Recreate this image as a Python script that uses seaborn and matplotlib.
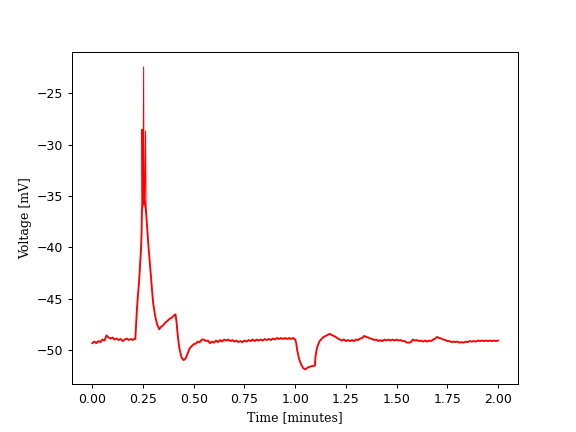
import matplotlib
matplotlib.use("Agg")
import matplotlib.pyplot as plt
import seaborn as sns
import pandas as pd

time_min = [
    0.00, 0.01, 0.02, 0.03, 0.04, 0.05, 0.06, 0.07, 0.08, 0.09,
    0.10, 0.11, 0.12, 0.13, 0.14, 0.15, 0.16, 0.17, 0.18, 0.19,
    0.20, 0.205, 0.212, 0.216, 0.22, 0.225, 0.23, 0.235, 0.24, 0.243,
    0.2445, 0.245, 0.247, 0.250, 0.253, 0.255, 0.258, 0.2625, 0.265, 0.268,
    0.272, 0.278, 0.285, 0.29, 0.295, 0.30, 0.31, 0.32, 0.33, 0.34,
    0.35, 0.36, 0.37, 0.38, 0.39, 0.40, 0.41, 0.415, 0.42, 0.425,
    0.43, 0.44, 0.45, 0.46, 0.47, 0.48, 0.49, 0.50, 0.51, 0.52,
    0.53, 0.54, 0.55, 0.56, 0.57, 0.58, 0.59, 0.60, 0.61, 0.62,
    0.63, 0.64, 0.65, 0.66, 0.67, 0.68, 0.69, 0.70, 0.71, 0.72,
    0.73, 0.74, 0.75, 0.76, 0.77, 0.78, 0.79, 0.80, 0.81, 0.82,
    0.83, 0.84, 0.85, 0.86, 0.87, 0.88, 0.89, 0.90, 0.91, 0.92,
    0.93, 0.94, 0.95, 0.96, 0.97, 0.98, 0.99, 1.00, 1.005, 1.01,
    1.02, 1.03, 1.04, 1.05, 1.06, 1.07, 1.08, 1.09, 1.097, 1.10,
    1.105, 1.11, 1.12, 1.13, 1.14, 1.15, 1.16, 1.17, 1.18, 1.19,
    1.20, 1.21, 1.22, 1.23, 1.24, 1.25, 1.26, 1.27, 1.28, 1.29,
    1.30, 1.31, 1.32, 1.33, 1.34, 1.35, 1.36, 1.37, 1.38, 1.39,
    1.40, 1.41, 1.42, 1.43, 1.44, 1.45, 1.46, 1.47, 1.48, 1.49,
    1.50, 1.51, 1.52, 1.53, 1.54, 1.55, 1.56, 1.57, 1.58, 1.59,
    1.60, 1.61, 1.62, 1.63, 1.64, 1.65, 1.66, 1.67, 1.68, 1.69,
    1.70, 1.71, 1.72, 1.73, 1.74, 1.75, 1.76, 1.77, 1.78, 1.79,
    1.80, 1.81, 1.82, 1.83, 1.84, 1.85, 1.86, 1.87, 1.88, 1.89,
    1.90, 1.91, 1.92, 1.93, 1.94, 1.95, 1.96, 1.97, 1.98, 1.99,
    2.00,
]
voltage_mv = [
    -49.30, -49.15, -49.30, -49.10, -49.20, -48.95, -49.05, -48.55, -48.75, -48.85,
    -48.75, -48.95, -48.85, -49.00, -48.90, -49.10, -48.95, -48.85, -49.00, -48.90,
    -49.00, -48.90, -48.90, -47.50, -46.00, -44.60, -43.50, -41.80, -40.20, -38.50,
    -36.50, -28.50, -36.00, -35.60, -22.45, -35.80, -35.50, -28.70, -36.50, -37.30,
    -38.50, -40.20, -41.80, -43.00, -44.30, -45.40, -46.70, -47.50, -47.95, -47.70,
    -47.55, -47.30, -47.15, -46.95, -46.85, -46.65, -46.50, -47.20, -48.30, -49.20,
    -49.90, -50.70, -50.95, -50.80, -50.30, -49.80, -49.60, -49.40, -49.35, -49.15,
    -49.20, -48.95, -48.95, -49.10, -49.05, -49.30, -49.15, -49.25, -49.05, -49.20,
    -49.00, -49.15, -48.95, -49.05, -48.95, -49.10, -49.00, -49.15, -49.05, -49.20,
    -49.10, -49.20, -49.05, -49.15, -49.00, -49.10, -48.95, -49.10, -48.95, -49.05,
    -48.95, -49.05, -48.90, -49.00, -48.90, -49.00, -48.85, -48.95, -48.80, -48.90,
    -48.80, -48.90, -48.80, -48.90, -48.80, -48.90, -48.80, -48.95, -49.30, -50.00,
    -50.90, -51.40, -51.75, -51.85, -51.70, -51.60, -51.55, -51.50, -51.50, -50.60,
    -50.00, -49.60, -49.10, -48.90, -48.70, -48.60, -48.50, -48.40, -48.50, -48.60,
    -48.70, -48.85, -48.95, -49.05, -48.95, -49.10, -49.00, -49.10, -49.00, -49.10,
    -48.95, -49.00, -48.85, -48.80, -48.60, -48.70, -48.75, -48.85, -48.90, -49.00,
    -48.95, -49.10, -49.00, -49.10, -48.95, -49.05, -48.95, -49.05, -48.95, -49.05,
    -48.95, -49.05, -49.00, -49.10, -49.10, -49.25, -49.25, -49.20, -48.95, -49.05,
    -49.00, -49.10, -49.05, -49.15, -49.05, -49.15, -49.05, -49.10, -48.95, -48.85,
    -48.70, -48.80, -48.85, -48.95, -49.00, -49.10, -49.10, -49.20, -49.15, -49.20,
    -49.15, -49.25, -49.20, -49.25, -49.15, -49.20, -49.10, -49.15, -49.10, -49.15,
    -49.05, -49.10, -49.05, -49.10, -49.05, -49.10, -49.05, -49.10, -49.05, -49.10,
    -49.05,
]

df = pd.DataFrame({"Time": time_min, "Voltage": voltage_mv})
# the fast spikes are single samples; draw them with a hairline like the recording
is_spike = df["Voltage"] > -34
spike_win = df[(df["Time"] >= 0.2445) & (df["Time"] <= 0.265)]

fig, ax = plt.subplots(figsize=(6.4, 4.8), dpi=90)
sns.lineplot(data=df[~is_spike], x="Time", y="Voltage", color="red",
             linewidth=1.5, sort=False, estimator=None, ax=ax)
sns.lineplot(data=spike_win, x="Time", y="Voltage", color="red",
             linewidth=0.8, sort=False, estimator=None, ax=ax)

ax.set_xlabel("Time [minutes]", fontfamily="DejaVu Serif")
ax.set_ylabel("Voltage [mV]", fontfamily="DejaVu Serif")

fig.savefig("out.png", dpi=90)
